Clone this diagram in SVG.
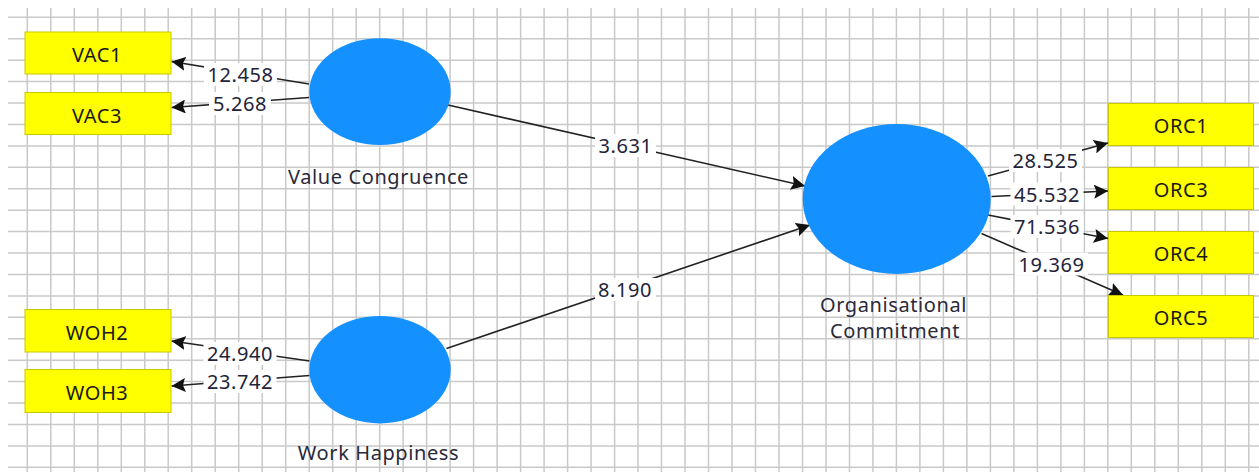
<svg xmlns="http://www.w3.org/2000/svg" width="1259" height="472" viewBox="0 0 1259 472">
<style>
.grid{stroke:#c9c9c9;stroke-width:1.5;fill:none}
.ind rect{fill:#ffff00;stroke:#c8c800;stroke-width:1}
.ind text{font-family:"Noto Sans","Open Sans",sans-serif;font-size:20px;fill:#1a1a1a;text-anchor:middle;letter-spacing:0.6px}
.lv ellipse{fill:#1490ff}
.lv text{font-family:"Noto Sans","Open Sans",sans-serif;font-size:20px;fill:#2a2a3a;text-anchor:middle;letter-spacing:0.6px}
.edge line{stroke:#222;stroke-width:1.6;marker-end:url(#ah)}
.lbl rect{fill:#fff}
.lbl text{font-family:"Noto Sans","Open Sans",sans-serif;font-size:20px;fill:#23233a;text-anchor:middle;letter-spacing:0.6px}
</style>
<defs>
<marker id="ah" markerUnits="userSpaceOnUse" markerWidth="16" markerHeight="14" refX="14" refY="7" orient="auto">
<path d="M0,0 L14,7 L0,14 L2.5,7 z" fill="#111"/>
</marker>
</defs>
<rect x="0" y="0" width="1259" height="472" fill="#fff"/>
<path class="grid" d="M27.3 8V472M50.8 8V472M74.3 8V472M97.8 8V472M121.3 8V472M144.8 8V472M168.2 8V472M191.7 8V472M215.2 8V472M238.7 8V472M262.2 8V472M285.7 8V472M309.2 8V472M332.7 8V472M356.2 8V472M379.7 8V472M403.1 8V472M426.6 8V472M450.1 8V472M473.6 8V472M497.1 8V472M520.6 8V472M544.1 8V472M567.6 8V472M591.1 8V472M614.6 8V472M638 8V472M661.5 8V472M685 8V472M708.5 8V472M732 8V472M755.5 8V472M779 8V472M802.5 8V472M826 8V472M849.5 8V472M872.9 8V472M896.4 8V472M919.9 8V472M943.4 8V472M966.9 8V472M990.4 8V472M1013.9 8V472M1037.4 8V472M1060.9 8V472M1084.4 8V472M1107.8 8V472M1131.3 8V472M1154.8 8V472M1178.3 8V472M1201.8 8V472M1225.3 8V472M1248.8 8V472M8 17.3H1259M8 38.7H1259M8 60.2H1259M8 81.6H1259M8 103H1259M8 124.5H1259M8 145.9H1259M8 167.3H1259M8 188.7H1259M8 210.2H1259M8 231.6H1259M8 253H1259M8 274.5H1259M8 295.9H1259M8 317.3H1259M8 338.8H1259M8 360.2H1259M8 381.6H1259M8 403H1259M8 424.5H1259M8 445.9H1259M8 467.3H1259"/>
<g id="connectors" class="edge">
<line x1="309" y1="84" x2="171.5" y2="61.5"/>
<line x1="309" y1="97.5" x2="171.5" y2="107.5"/>
<line x1="309.5" y1="361" x2="171.5" y2="341"/>
<line x1="309.5" y1="375.5" x2="171.5" y2="386"/>
<line x1="448" y1="105" x2="805" y2="186"/>
<line x1="446.5" y1="348.5" x2="810" y2="225"/>
<line x1="988" y1="176" x2="1108" y2="143"/>
<line x1="991.5" y1="196.5" x2="1108" y2="191"/>
<line x1="988" y1="215" x2="1108" y2="238.5"/>
<line x1="981.5" y1="233.5" x2="1123" y2="295"/>
</g>
<g id="labels" class="lbl">
<rect x="204" y="63" width="73" height="23"/><text x="240.5" y="82">12.458</text>
<rect x="209" y="92" width="62" height="23"/><text x="240" y="111">5.268</text>
<rect x="203.5" y="342" width="73" height="23"/><text x="240" y="361">24.940</text>
<rect x="203.5" y="370" width="73" height="23"/><text x="240" y="389">23.742</text>
<rect x="595" y="134" width="61" height="23"/><text x="625.5" y="152.5">3.631</text>
<rect x="595" y="278" width="61" height="23"/><text x="625" y="296.5">8.190</text>
<rect x="1009" y="149" width="73" height="23"/><text x="1045.5" y="168">28.525</text>
<rect x="1010.5" y="182.5" width="73" height="23"/><text x="1047" y="201.5">45.532</text>
<rect x="1010.5" y="215" width="73" height="23"/><text x="1047" y="234">71.536</text>
<rect x="1015" y="252.5" width="73" height="23"/><text x="1051.5" y="271.5">19.369</text>
</g>
<g id="VAC1" class="ind"><rect x="25" y="32" width="146" height="42"/><text x="97" y="62">VAC1</text></g>
<g id="VAC3" class="ind"><rect x="25" y="92.5" width="146" height="42"/><text x="97" y="122.5">VAC3</text></g>
<g id="WOH2" class="ind"><rect x="25" y="309.5" width="146" height="42.5"/><text x="97" y="339.5">WOH2</text></g>
<g id="WOH3" class="ind"><rect x="25" y="369.5" width="146" height="43"/><text x="97" y="400">WOH3</text></g>
<g id="ORC1" class="ind"><rect x="1108.5" y="103.5" width="145" height="42"/><text x="1181" y="133">ORC1</text></g>
<g id="ORC3" class="ind"><rect x="1108.5" y="167.5" width="145" height="42"/><text x="1181" y="197">ORC3</text></g>
<g id="ORC4" class="ind"><rect x="1108.5" y="231.5" width="145" height="42"/><text x="1181" y="261">ORC4</text></g>
<g id="ORC5" class="ind"><rect x="1108.5" y="295.5" width="145" height="42"/><text x="1181" y="325">ORC5</text></g>
<g id="ValueCongruence" class="lv"><ellipse cx="380" cy="91.7" rx="70.7" ry="53.4"/><text x="378.5" y="184">Value Congruence</text></g>
<g id="WorkHappiness" class="lv"><ellipse cx="380" cy="369.7" rx="70.7" ry="53.7"/><text x="378.5" y="460">Work Happiness</text></g>
<g id="OrganisationalCommitment" class="lv"><ellipse cx="896.7" cy="199" rx="94" ry="75"/><text x="893.5" y="312">Organisational</text><text x="895" y="338">Commitment</text></g>
</svg>
